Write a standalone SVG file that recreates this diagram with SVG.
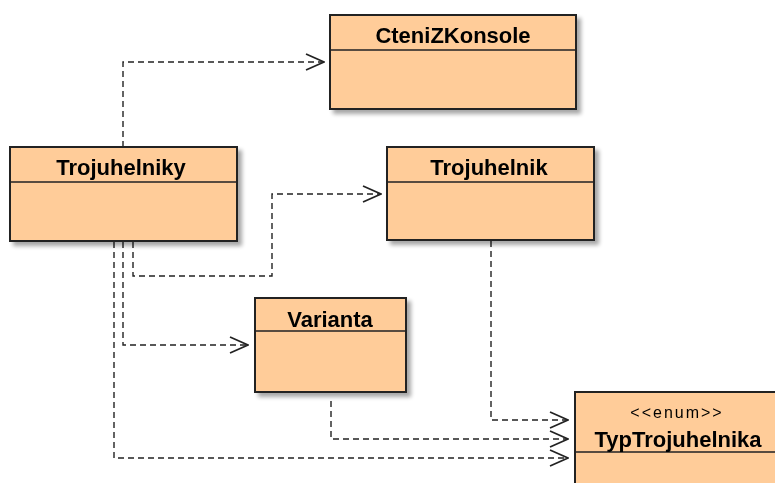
<svg xmlns="http://www.w3.org/2000/svg" width="775" height="483" viewBox="0 0 775 483">
  <defs>
    <filter id="shadow" x="-10%" y="-10%" width="130%" height="130%">
      <feGaussianBlur in="SourceAlpha" stdDeviation="2"/>
      <feOffset dx="4" dy="4" result="b"/>
      <feComponentTransfer><feFuncA type="linear" slope="0.35"/></feComponentTransfer>
      <feMerge><feMergeNode/><feMergeNode in="SourceGraphic"/></feMerge>
    </filter>
    <marker id="open" viewBox="0 0 20 18" refX="19" refY="9" markerWidth="20" markerHeight="18" markerUnits="userSpaceOnUse" orient="auto">
      <path d="M1,1 L19,9 L1,17" fill="none" stroke="#222" stroke-width="1.7"/>
    </marker>
  </defs>
  <style>
    .box { fill: #FFCC99; stroke: #222; stroke-width: 2; }
    .div { stroke: #222; stroke-width: 1.5; }
    .name { font-family: "Liberation Sans", Arial, sans-serif; font-weight: bold; font-size: 22px; fill: #000; text-anchor: middle; }
    .stereo { font-family: "Liberation Sans", Arial, sans-serif; font-size: 16px; letter-spacing: 2px; fill: #000; text-anchor: middle; }
    .dep { fill: none; stroke: #222; stroke-width: 1.4; stroke-dasharray: 6 4; marker-end: url(#open); }
  </style>
  <rect width="775" height="483" fill="#fff"/>

  <!-- dependency arrows (dashed, open heads) -->
  <g id="connectors">
    <polyline class="dep" points="123,147 123,62 324,62"/>
    <polyline class="dep" points="133,242 133,276 272,276 272,194 381,194"/>
    <polyline class="dep" points="123,242 123,345 248,345"/>
    <polyline class="dep" points="114,242 114,458 568,458"/>
    <polyline class="dep" points="331,401 331,439 568,439"/>
    <polyline class="dep" points="491,241 491,420 568,420"/>
  </g>

  <g id="CteniZKonsole" filter="url(#shadow)">
    <rect class="box" x="330" y="15" width="246" height="94"/>
    <line class="div" x1="330" y1="50" x2="576" y2="50"/>
    <text class="name" x="453" y="43">CteniZKonsole</text>
  </g>

  <g id="Trojuhelniky" filter="url(#shadow)">
    <rect class="box" x="10" y="147" width="227" height="94"/>
    <line class="div" x1="10" y1="182" x2="237" y2="182"/>
    <text class="name" x="121" y="175">Trojuhelniky</text>
  </g>

  <g id="Trojuhelnik" filter="url(#shadow)">
    <rect class="box" x="387" y="147" width="207" height="93"/>
    <line class="div" x1="387" y1="182" x2="594" y2="182"/>
    <text class="name" x="489" y="175">Trojuhelnik</text>
  </g>

  <g id="Varianta" filter="url(#shadow)">
    <rect class="box" x="255" y="298" width="151" height="94"/>
    <line class="div" x1="255" y1="331" x2="406" y2="331"/>
    <text class="name" x="330" y="327">Varianta</text>
  </g>

  <g id="TypTrojuhelnika" filter="url(#shadow)">
    <rect class="box" x="575" y="392" width="220" height="110"/>
    <line class="div" x1="575" y1="452" x2="795" y2="452"/>
    <text class="stereo" x="677" y="418">&lt;&lt;enum&gt;&gt;</text>
    <text class="name" x="678" y="447">TypTrojuhelnika</text>
  </g>
</svg>
